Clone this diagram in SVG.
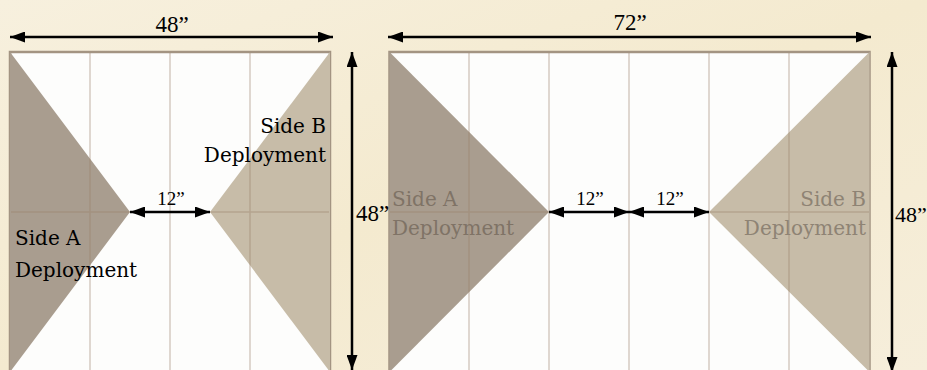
<svg xmlns="http://www.w3.org/2000/svg" width="927" height="370" viewBox="0 0 927 370">
  <defs>
    <linearGradient id="bg" x1="0" y1="0" x2="1" y2="1">
      <stop offset="0" stop-color="#f7f0de"/>
      <stop offset="0.5" stop-color="#f4eacf"/>
      <stop offset="1" stop-color="#f6eedb"/>
    </linearGradient>
    <marker id="ah" viewBox="0 0 15 11" markerWidth="15" markerHeight="11" refX="15" refY="5.5" orient="auto-start-reverse" markerUnits="userSpaceOnUse">
      <path d="M0,0 L15,5.5 L0,11 z" fill="#000"/>
    </marker>
    <style>
      .board { fill: #fdfdfc; stroke: #a39482; stroke-width: 2.5; }
      .grid { stroke: #9b8068; stroke-opacity: 0.4; stroke-width: 1.5; fill: none; }
      .triA { fill: #a99d8f; }
      .triB { fill: #c7bca8; }
      .lbl { font-family: "DejaVu Serif", serif; font-size: 20px; fill: #000; }
      .lblA { font-family: "DejaVu Serif", serif; font-size: 20px; fill: #7f7366; }
      .lblB { font-family: "DejaVu Serif", serif; font-size: 20px; fill: #8e8374; }
      .dim { font-family: "Liberation Serif", serif; font-size: 23px; fill: #000; }
      .dims { font-family: "Liberation Serif", serif; font-size: 19px; fill: #000; }
      .arrow { stroke: #000; stroke-width: 2.5; fill: none; marker-start: url(#ah); marker-end: url(#ah); }
    </style>
  </defs>
  <rect x="0" y="0" width="927" height="370" fill="url(#bg)"/>

  <g id="board-48x48">
    <rect class="board" x="10" y="52" width="320" height="322"/>
    <polygon class="triA" points="10,52 130,212 10,372"/>
    <polygon class="triB" points="330,52 210,212 330,372"/>
    <path class="grid" d="M90,53 V372 M170,53 V372 M250,53 V372 M11,212 H329"/>
    <text class="lbl" x="326" y="133" text-anchor="end">Side B</text>
    <text class="lbl" x="326" y="162" text-anchor="end">Deployment</text>
    <text class="lbl" x="15" y="245">Side A</text>
    <text class="lbl" x="15" y="277">Deployment</text>
  </g>

  <g id="board-72x48">
    <rect class="board" x="389.5" y="52" width="480" height="322"/>
    <polygon class="triA" points="389.5,52 549,212 389.5,372"/>
    <polygon class="triB" points="869.5,52 709,212 869.5,372"/>
    <path class="grid" d="M469,53 V372 M549,53 V372 M629,53 V372 M709,53 V372 M789,53 V372 M390,212 H869"/>
    <text class="lblA" x="392" y="206">Side A</text>
    <text class="lblA" x="392" y="235">Deployment</text>
    <text class="lblB" x="866" y="206" text-anchor="end">Side B</text>
    <text class="lblB" x="866" y="235" text-anchor="end">Deployment</text>
  </g>

  <g id="connectors">
    <line class="arrow" x1="10" y1="37" x2="333" y2="37"/>
    <line class="arrow" x1="352" y1="52" x2="352" y2="370"/>
    <line class="arrow" x1="130" y1="212" x2="210" y2="212"/>
    <line class="arrow" x1="388" y1="37" x2="871" y2="37"/>
    <line class="arrow" x1="892" y1="52" x2="892" y2="372"/>
    <line class="arrow" x1="549" y1="212" x2="629" y2="212"/>
    <line class="arrow" x1="629" y1="212" x2="709" y2="212"/>
  </g>

  <g id="dimension-labels">
    <text class="dim" x="172" y="32" text-anchor="middle">48”</text>
    <text class="dim" x="630" y="30" text-anchor="middle">72”</text>
    <text class="dim" x="356" y="221">48”</text>
    <text class="dim" x="895" y="222" style="font-size:22px">48”</text>
    <text class="dims" x="171" y="205" text-anchor="middle">12”</text>
    <text class="dims" x="590" y="205" text-anchor="middle">12”</text>
    <text class="dims" x="670" y="205" text-anchor="middle">12”</text>
  </g>
</svg>
